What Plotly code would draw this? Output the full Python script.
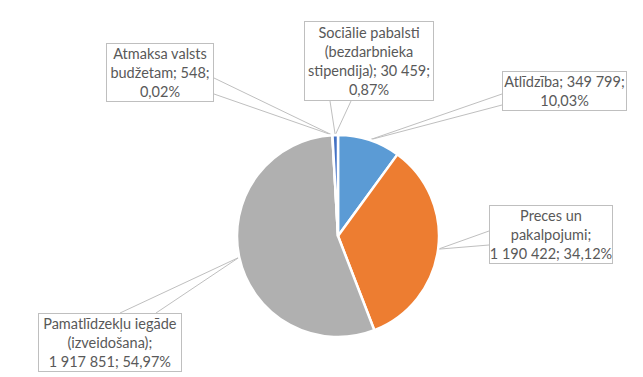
import math
import plotly.graph_objects as go

# ---- data ----
names = ["Atlīdzība", "Preces un<br>pakalpojumi", "Pamatlīdzekļu iegāde<br>(izveidošana)",
         "Atmaksa valsts<br>budžetam", "Sociālie pabalsti<br>(bezdarbnieka<br>stipendija)"]
values = [349799, 1190422, 1917851, 548, 30459]
colors = ["#5B9BD5", "#ED7D31", "#B0B0B0", "#FFC000", "#4472C4"]
sep_name = [" ", "<br>", "<br>", " ", " "]
sep_val = ["<br>", " ", " ", "<br>", "<br>"]

W, H = 643, 377
# pie geometry (pixels)
CX, CY, R = 330, 228, 101

# label boxes: (left, top, right, bottom) in px, and pointer attach points
boxes = [(494, 63, 619, 103), (481, 197, 605, 256), (30, 305, 174, 364),
         (98, 35, 206, 94), (296, 13, 426, 93)]
attach = [((494, 86), (494, 97)), ((481, 223), (481, 237)), ((112, 305), (148, 305)),
          ((206, 70), (206, 86)), ((322, 93), (343, 93))]

def px(x):
    return x / W

def py(y):
    return 1 - y / H

total = sum(values)
fig = go.Figure(go.Pie(
    labels=[n.replace("<br>", " ") for n in names], values=values, sort=False,
    direction="clockwise", rotation=0, textinfo="none", hoverinfo="label+value+percent",
    marker=dict(colors=colors, line=dict(color="white", width=2.5)),
    domain=dict(x=[px(CX - R), px(CX + R)], y=[py(CY + R), py(CY - R)]),
    showlegend=False,
))

annotations = []
shapes = []
cum = 0
for i, v in enumerate(values):
    mid = (cum + v / 2) / total
    cum += v
    th = 2 * math.pi * mid
    ax_, ay_ = CX + R * math.sin(th), CY - R * math.cos(th)
    pct = f"{100 * v / total:.2f}".replace(".", ",") + "%"
    val = f"{v:,}".replace(",", " ")
    text = f"{names[i]};{sep_name[i]}{val};{sep_val[i]}{pct}"
    l, t, r, b = boxes[i]
    (x1, y1), (x2, y2) = attach[i]
    shapes.append(dict(type="path", xref="paper", yref="paper",
                       path=f"M {px(x1)},{py(y1)} L {px(ax_)},{py(ay_)} L {px(x2)},{py(y2)}",
                       line=dict(color="#BFBFBF", width=1), layer="below"))
    annotations.append(dict(
        x=px((l + r) / 2), y=py((t + b) / 2), xref="paper", yref="paper",
        xanchor="center", yanchor="middle", showarrow=False, text=text, align="center",
        width=r - l - 2, height=b - t - 2, borderpad=0,
        bordercolor="#BFBFBF", borderwidth=1, bgcolor="white",
        font=dict(family="Lato", size=14.5, color="#595959"),
    ))

fig.update_layout(
    width=W, height=H, margin=dict(l=0, r=0, t=0, b=0),
    paper_bgcolor="white", plot_bgcolor="white",
    annotations=annotations, shapes=shapes,
)
fig.write_html("out.html")
